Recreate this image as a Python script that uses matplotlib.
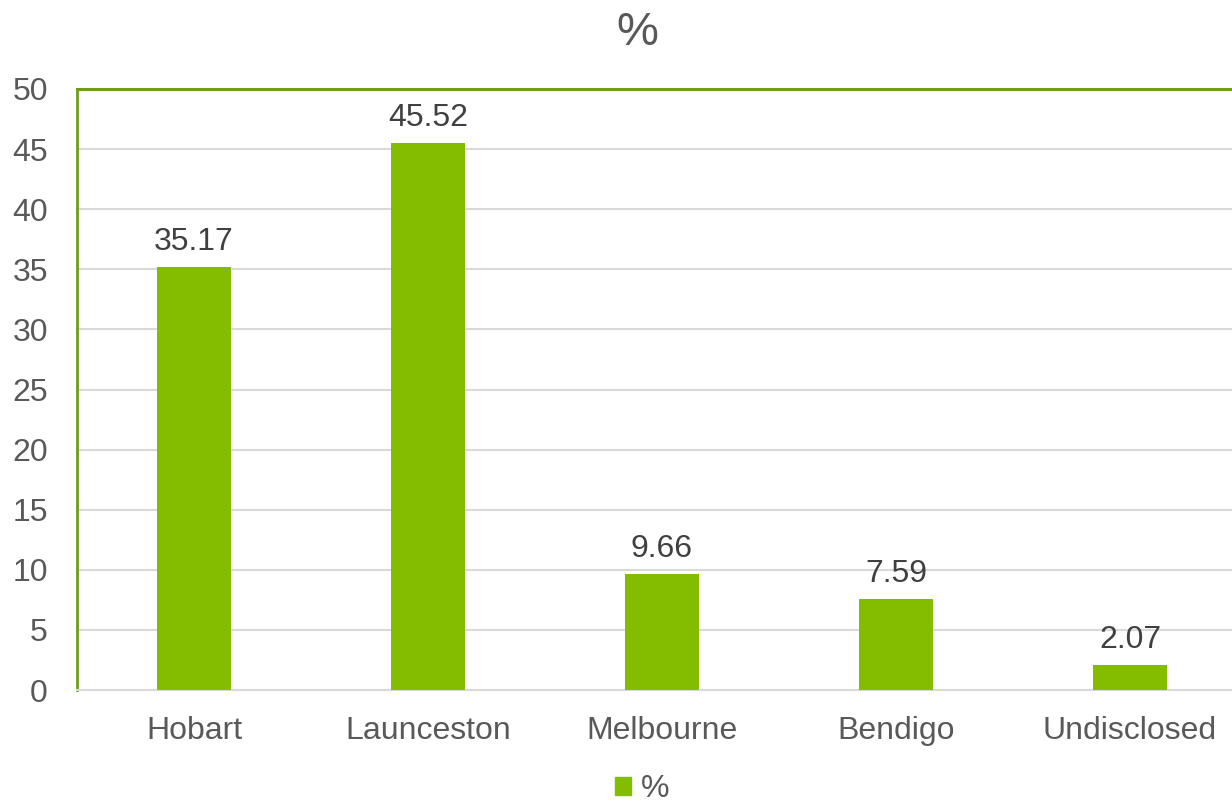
import matplotlib
matplotlib.use("Agg")
import matplotlib.pyplot as plt
from matplotlib.patches import Patch

categories = ["Hobart", "Launceston", "Melbourne", "Bendigo", "Undisclosed"]
values = [35.17, 45.52, 9.66, 7.59, 2.07]
yticks = [0, 5, 10, 15, 20, 25, 30, 35, 40, 45, 50]

bar_color = "#84BD00"
frame_color = "#6E9C1E"
grid_color = "#D9D9D9"
text_color = "#595959"

plt.rcParams["font.family"] = ["Liberation Sans", "DejaVu Sans"]

fig = plt.figure(figsize=(12.32, 8.02), dpi=100)
W, H = 1232, 802
left, right, top, bottom = 77, 1247, 89, 690
ax = fig.add_axes([left / W, 1 - bottom / H, (right - left) / W, (bottom - top) / H])

x = list(range(len(categories)))
bars = ax.bar(x, values, width=0.316, color=bar_color, zorder=3)
ax.set_xlim(-0.5, len(categories) - 0.5)
ax.set_ylim(0, 50)
ax.set_yticks(yticks)
ax.set_xticks(x)
ax.set_xticklabels(categories)
ax.tick_params(axis="both", length=0, labelsize=23, colors=text_color)
ax.tick_params(axis="x", pad=18.5)
ax.tick_params(axis="y", pad=21)
ax.yaxis.grid(True, color=grid_color, linewidth=1.5, zorder=0)
ax.set_axisbelow(True)

ax.spines["right"].set_visible(False)
ax.spines["bottom"].set_color(grid_color)
ax.spines["bottom"].set_linewidth(1.5)
ax.spines["top"].set_color(frame_color)
ax.spines["top"].set_linewidth(2.2)
ax.spines["left"].set_color(frame_color)
ax.spines["left"].set_linewidth(2.0)

for xi, v in zip(x, values):
    ax.annotate(f"{v:.2f}", (xi, v), xytext=(0, 12.2), textcoords="offset points",
                ha="center", va="baseline", fontsize=23, color="#404040")

fig.text(637 / W, 1 - 45 / H, "%", ha="center", va="baseline", fontsize=34, color=text_color)

leg = fig.legend(handles=[Patch(color=bar_color, label="%")], loc="center",
                 bbox_to_anchor=(642 / W, 1 - 789 / H), frameon=False, fontsize=23,
                 handlelength=0.5, handleheight=0.5, handletextpad=0.3)
for t in leg.get_texts():
    t.set_color(text_color)

fig.savefig("out.png", dpi=100)
